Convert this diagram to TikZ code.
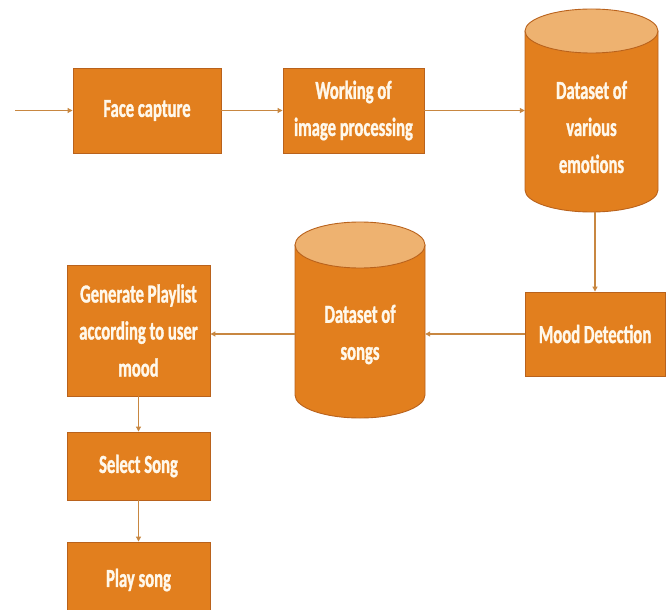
\documentclass[tikz,border=0pt]{standalone}
\usepackage{fontspec}
\setmainfont{Carlito}[FakeStretch=0.64, BoldFeatures={FakeBold=1.2}]
\usetikzlibrary{arrows.meta}
\definecolor{boxfill}{RGB}{226,127,30}
\definecolor{boxline}{RGB}{185,98,28}
\definecolor{toplight}{RGB}{238,178,112}
\definecolor{arrowc}{RGB}{200,135,65}
\definecolor{txt}{RGB}{255,248,235}
\tikzset{
  box/.style={draw=boxline, line width=0.9pt, fill=boxfill, text=txt,
    font=\bfseries\fontsize{26}{37}\selectfont, align=center, inner sep=0pt},
  cyltext/.style={text=txt, font=\bfseries\fontsize{26}{37}\selectfont, align=center, inner sep=0pt},
  cylbody/.style={draw=boxline, line width=0.9pt, fill=boxfill},
  cyltop/.style={draw=boxline, line width=0.9pt, fill=toplight},
  conn/.style={draw=arrowc, line width=1.1pt, -{Triangle[length=5pt,width=5pt]}}
}
\begin{document}
\begin{tikzpicture}[x=1pt,y=-1pt]
\useasboundingbox (0,0) rectangle (672,610);
\clip (0,0) rectangle (672,610);
% cylinder: emotions
\path[cylbody] (525,31) -- (525,190) arc[start angle=180,end angle=0,x radius=66.5,y radius=22] -- (658,31) -- cycle;
\path[cyltop] (591.5,31) ellipse[x radius=66.5,y radius=22];
% cylinder: songs
\path[cylbody] (295,245) -- (295,395) arc[start angle=180,end angle=0,x radius=65,y radius=23] -- (425,245) -- cycle;
\path[cyltop] (360,245) ellipse[x radius=65,y radius=23];

\node[box, minimum width=148pt, minimum height=85pt] (face) at (147,110.5) {Face capture};
\node[box, minimum width=141pt, minimum height=85pt] (work) at (353.5,110.5) {Working of\\image processing};
\node[cyltext, minimum width=133pt, minimum height=170pt] (emo) at (591.5,127) {Dataset of\\various\\emotions};
\node[box, minimum width=140pt, minimum height=84pt] (mood) at (595,334) {Mood Detection};
\node[cyltext, minimum width=130pt, minimum height=167pt] (songs) at (360,334.5) {Dataset of\\songs};
\node[box, minimum width=143pt, minimum height=131pt] (gen) at (138.5,330.5) {Generate Playlist\\according to user\\mood};
\node[box, minimum width=143pt, minimum height=68pt] (sel) at (138.5,466) {Select Song};
\node[box, minimum width=143pt, minimum height=76pt] (play) at (138.5,580) {Play song};

\coordinate (start) at (15,110.5);
\draw[conn] (start) -- (face.west);
\draw[conn] (face.east) -- (work.west);
\draw[conn] (work.east) -- (work.east -| emo.west);
\draw[conn] (emo.south -| mood.north) -- (mood.north);
\draw[conn] (mood.west) -- (mood.west -| songs.east);
\draw[conn] (songs.west |- mood.west) -- (mood.west -| gen.east);
\draw[conn] (gen.south) -- (sel.north);
\draw[conn] (sel.south) -- (play.north);
\end{tikzpicture}
\end{document}
